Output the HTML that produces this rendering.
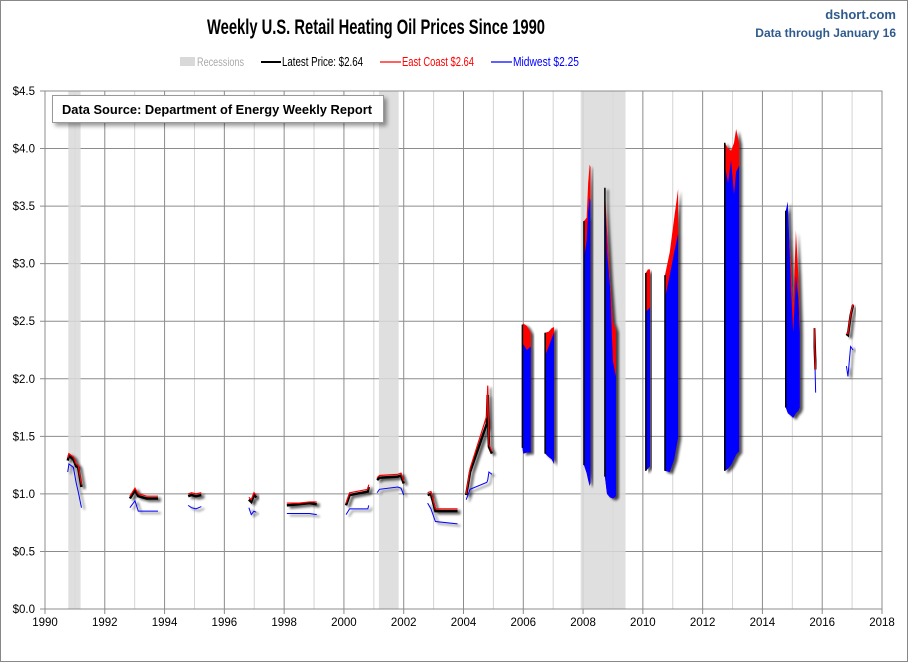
<!DOCTYPE html>
<html><head><meta charset="utf-8"><style>
html,body{margin:0;padding:0;background:#fff}
svg{display:block;font-family:"Liberation Sans",sans-serif}
</style></head><body>
<svg id="chart" width="908" height="662" viewBox="0 0 908 662">
<defs>
<filter id="sh" x="-20%" y="-20%" width="160%" height="160%"><feGaussianBlur in="SourceAlpha" stdDeviation="1.2"/><feOffset dx="3" dy="2" result="b"/><feComponentTransfer><feFuncA type="linear" slope="0.7"/></feComponentTransfer><feMerge><feMergeNode/><feMergeNode in="SourceGraphic"/></feMerge></filter>
<filter id="bsh" x="-10%" y="-30%" width="130%" height="180%"><feGaussianBlur in="SourceAlpha" stdDeviation="2"/><feOffset dx="3" dy="3"/><feComponentTransfer><feFuncA type="linear" slope="0.4"/></feComponentTransfer><feMerge><feMergeNode/><feMergeNode in="SourceGraphic"/></feMerge></filter>
</defs>
<rect x="0.5" y="0.5" width="907" height="661" fill="#fff" stroke="#888"/>
<text x="376" y="34" text-anchor="middle" font-size="21" font-weight="bold" textLength="338" lengthAdjust="spacingAndGlyphs">Weekly U.S. Retail Heating Oil Prices Since 1990</text>
<text x="896" y="19" text-anchor="end" font-size="13" fill="#2e5a8c" font-weight="bold">dshort.com</text>
<text x="896" y="37" text-anchor="end" font-size="12" fill="#2e5a8c" font-weight="bold">Data through January 16</text>
<g>
<g><rect x="180" y="57" width="15" height="9" fill="#d9d9d9"/><text x="197" y="66" font-size="12" fill="#aaa" textLength="47" lengthAdjust="spacingAndGlyphs">Recessions</text></g>
<g><line x1="261" y1="62" x2="281" y2="62" stroke="#000" stroke-width="2"/><text x="282" y="66" font-size="13" fill="#000" textLength="81" lengthAdjust="spacingAndGlyphs">Latest Price:  $2.64</text></g>
<g><line x1="380" y1="62" x2="401" y2="62" stroke="#f00" stroke-width="1.3"/><text x="402" y="66" font-size="13" fill="#f00" textLength="72" lengthAdjust="spacingAndGlyphs">East Coast  $2.64</text></g>
<g><line x1="491" y1="62" x2="512" y2="62" stroke="#00f" stroke-width="1.3"/><text x="513" y="66" font-size="13" fill="#00f" textLength="66" lengthAdjust="spacingAndGlyphs">Midwest  $2.25</text></g>
</g>
<g id="grid"></g>
<g id="rec"></g>
<g id="marks"></g>
<g id="axes"></g>
<g filter="url(#bsh)"><rect x="52.5" y="95.5" width="331" height="27" fill="#fff" stroke="#999"/></g>
<text x="62" y="114" font-size="13" font-weight="bold" textLength="310" lengthAdjust="spacingAndGlyphs">Data Source: Department of Energy Weekly Report</text>
</svg>
<script>
// ---- data ----
const recessionStarts=[1990.78,2001.17,2007.92];
const recessionEnds=[1991.19,2001.83,2009.42];
const yTicks=[0,0.5,1,1.5,2,2.5,3,3.5,4,4.5];
const yTickLabels=["$0.0","$0.5","$1.0","$1.5","$2.0","$2.5","$3.0","$3.5","$4.0","$4.5"];
const xTicks=[1990,1992,1994,1996,1998,2000,2002,2004,2006,2008,2010,2012,2014,2016,2018];
// sparse seasons: dates, latest (black), east coast (red), midwest (blue)
const lineDates=[
[1990.76,1990.80,1990.95,1991.04,1991.11,1991.22],
[1992.84,1993.01,1993.12,1993.40,1993.78],
[1994.79,1994.90,1995.05,1995.23],
[1996.82,1996.90,1996.99,1997.07],
[1998.09,1998.50,1998.85,1999.09],
[2000.07,2000.19,2000.80,2000.83],
[2001.11,2001.19,2001.80,2001.91,2002.00],
[2002.80,2002.91,2003.06,2003.80],
[2004.09,2004.22,2004.78,2004.81,2004.85,2004.95],
[2015.73,2015.76,2015.78],
[2016.81,2016.86,2016.95,2017.03]];
const latestVals=[
[1.29,1.33,1.30,1.24,1.23,1.06],
[0.96,1.03,0.98,0.96,0.96],
[0.98,0.99,0.98,0.99],
[0.95,0.93,0.99,0.97],
[0.90,0.91,0.92,0.91],
[0.90,0.99,1.02,1.06],
[1.12,1.14,1.15,1.16,1.09],
[0.99,1.00,0.85,0.85],
[0.99,1.19,1.61,1.86,1.41,1.35],
[2.44,2.20,2.08],
[2.39,2.38,2.55,2.64]];
const eastVals=[
[1.31,1.35,1.32,1.26,1.25,1.08],
[0.98,1.05,1.00,0.98,0.98],
[1.00,1.01,1.00,1.01],
[0.97,0.95,1.01,0.99],
[0.92,0.92,0.93,0.93],
[0.92,1.01,1.04,1.08],
[1.14,1.16,1.17,1.18,1.11],
[1.01,1.02,0.87,0.87],
[1.00,1.22,1.68,1.94,1.43,1.37],
[2.44,2.20,2.08],
[2.40,2.39,2.56,2.65]];
const midwestVals=[
[1.19,1.26,1.23,1.10,1.02,0.88],
[0.88,0.94,0.85,0.85,0.85],
[0.90,0.88,0.87,0.89],
[0.88,0.82,0.85,0.84],
[0.83,0.83,0.83,0.82],
[0.82,0.87,0.87,0.90],
[1.01,1.04,1.06,1.05,0.99],
[0.92,0.87,0.76,0.74],
[0.95,1.04,1.10,1.12,1.19,1.17],
[2.40,2.10,1.88],
[2.11,2.02,2.28,2.25]];
// dense seasons: dates, east coast high, midwest high, weekly low
const bandDates=[
[2005.97,2006.00,2006.12,2006.25],
[2006.73,2006.85,2006.95,2007.03],
[2008.03,2008.12,2008.17,2008.22,2008.25],
[2008.73,2008.80,2008.90,2009.00,2009.10],
[2010.10,2010.17,2010.24],
[2010.74,2010.90,2011.05,2011.18],
[2012.74,2012.85,2012.95,2013.05,2013.12,2013.22],
[2014.78,2014.85,2014.95,2015.03,2015.12,2015.20,2015.25]];
const bandEastHigh=[
[2.47,2.48,2.46,2.40],
[2.40,2.41,2.44,2.45],
[3.37,3.40,3.70,3.86,3.84],
[3.66,3.30,2.85,2.50,2.42],
[2.92,2.95,2.95],
[2.90,3.10,3.40,3.65],
[4.05,4.00,3.98,4.05,4.17,4.05],
[3.46,3.40,3.00,2.60,3.29,2.90,2.48]];
const bandMidHigh=[
[2.27,2.30,2.25,2.28],
[2.20,2.28,2.35,2.40],
[3.04,3.20,3.45,3.57,3.55],
[3.62,3.10,2.80,2.15,2.02],
[2.58,2.60,2.62],
[2.70,2.90,3.10,3.26],
[3.85,3.70,3.90,3.60,3.80,3.85],
[3.46,3.54,2.80,2.40,2.90,2.70,2.40]];
const bandLow=[
[1.40,1.35,1.36,1.36],
[1.35,1.32,1.30,1.26],
[1.25,1.18,1.12,1.07,1.10],
[1.15,1.00,0.97,0.96,0.98],
[1.20,1.22,1.24],
[1.20,1.19,1.30,1.49],
[1.20,1.22,1.25,1.30,1.34,1.37],
[1.75,1.70,1.68,1.66,1.70,1.72,1.75]];
// ---- scales ----
const X0=45,X1=882,Y0=609,Y1=91;
const xs=t=>X0+(t-1990)/(2018-1990)*(X1-X0);
const ys=v=>Y0-v/4.5*(Y0-Y1);
const NS="http://www.w3.org/2000/svg";
function mk(tag,attrs,parent){const e=document.createElementNS(NS,tag);for(const k in attrs)e.setAttribute(k,attrs[k]);parent.appendChild(e);return e;}
const grid=document.getElementById('grid'),rec=document.getElementById('rec'),marks=document.getElementById('marks'),axes=document.getElementById('axes');
for(let yr=1991;yr<2018;yr+=2){const l=mk('line',{x1:xs(yr),x2:xs(yr),y1:Y1,y2:Y0,stroke:'#d4d4d4','stroke-width':1},grid);

}
xTicks.forEach(t=>{const l=mk('line',{x1:xs(t),x2:xs(t),y1:Y1,y2:Y0+5,stroke:'#8c8c8c','stroke-width':1},grid);


const tx=mk('text',{x:xs(t),y:Y0+17,'text-anchor':'middle','font-size':11.5},axes);tx.textContent=t;

});
yTicks.forEach((v,i)=>{const l=mk('line',{x1:X0-5,x2:X1,y1:ys(v),y2:ys(v),stroke:'#8c8c8c','stroke-width':1},grid);


const tx=mk('text',{x:35,y:ys(v)+4,'text-anchor':'end','font-size':11.5},axes);tx.textContent=yTickLabels[i];

});
recessionStarts.forEach((s,i)=>{const r=mk('rect',{x:xs(s),y:Y1,width:xs(recessionEnds[i])-xs(s),height:Y0-Y1,fill:'#d9d9d9','fill-opacity':0.85},rec);

});
bandDates.forEach((d,i)=>{
 const g=mk('g',{filter:'url(#sh)'},marks);
 
 
 const low=d.map((t,j)=>xs(t)+','+ys(bandLow[i][j])).reverse().join(' ');
 const red=d.map((t,j)=>xs(t)+','+ys(bandEastHigh[i][j])).join(' ');
 const blu=d.map((t,j)=>xs(t)+','+ys(bandMidHigh[i][j])).join(' ');
 const p1=mk('polygon',{points:red+' '+low,fill:'#f00'},g);
 
 
 const p2=mk('polygon',{points:blu+' '+low,fill:'#00f'},g);
 
 
 const l=mk('line',{x1:xs(d[0]),x2:xs(d[0]),y1:ys(bandLow[i][0]),y2:ys(bandEastHigh[i][0]),stroke:'#000','stroke-width':1.5},g);
 
 
});
lineDates.forEach((d,i)=>{
 const g=mk('g',{filter:'url(#sh)',fill:'none'},marks);
 
 
 const pts=a=>d.map((t,j)=>xs(t)+','+ys(a[j])).join(' ');
 const b=mk('polyline',{points:pts(midwestVals[i]),stroke:'#00f','stroke-width':1},g);
 
 
 const k=mk('polyline',{points:pts(latestVals[i]),stroke:'#000','stroke-width':2.5},g);
 
 
 const r=mk('polyline',{points:pts(eastVals[i]),stroke:'#f00','stroke-width':1.2},g);
 
 
});
const frame=mk('rect',{x:X0,y:Y1,width:X1-X0,height:Y0-Y1,fill:'none',stroke:'#8c8c8c'},axes);


</script>
</body></html>
